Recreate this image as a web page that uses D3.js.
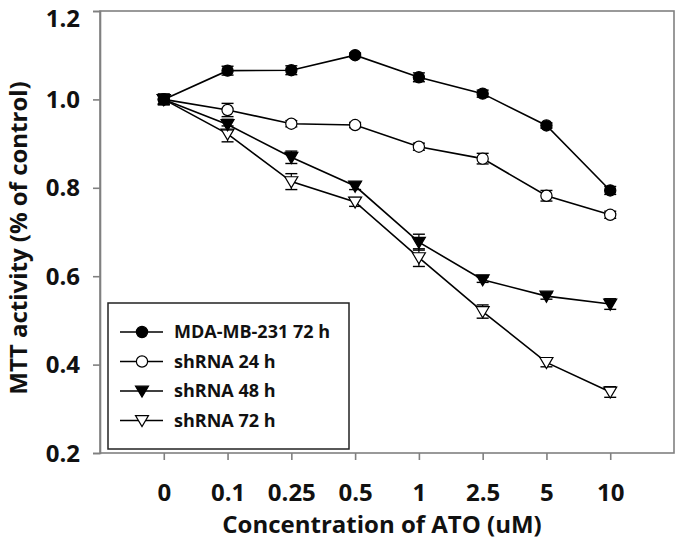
<!DOCTYPE html>
<html><head><meta charset="utf-8">
<script src="https://cdn.jsdelivr.net/npm/d3@7"></script>
<style>body{margin:0;background:#fff}svg{display:block}text{font-family:"Open Sans",sans-serif;font-weight:bold;fill:#111}</style>
</head><body>
<script>
const categories = ["0","0.1","0.25","0.5","1","2.5","5","10"];
const yTicks = [0.2,0.4,0.6,0.8,1.0,1.2];
const seriesNames = ["MDA-MB-231 72 h","shRNA 24 h","shRNA 48 h","shRNA 72 h"];
const mda72 = [1.000,1.065,1.066,1.100,1.050,1.013,0.941,0.794];
const sh24  = [1.000,0.976,0.945,0.942,0.893,0.866,0.782,0.739];
const sh48  = [1.000,0.943,0.869,0.804,0.677,0.592,0.555,0.537];
const sh72  = [1.000,0.922,0.814,0.768,0.642,0.520,0.405,0.338];
const mda72Err = [0.012,0.010,0.010,0.005,0.010,0.008,0.006,0.009];
const sh24Err  = [0.010,0.015,0.007,0.006,0.008,0.012,0.012,0.008];
const sh48Err  = [0.010,0.012,0.014,0.008,0.018,0.006,0.007,0.012];
const sh72Err  = [0.012,0.018,0.018,0.010,0.020,0.015,0.010,0.012];
const markers = ["circleFilled","circleOpen","triFilled","triOpen"];

const W=680,H=546;
const L=100,R=674,T=11,B=453;
const svg=d3.select("body").append("svg").attr("width",W).attr("height",H);
const x=d3.scalePoint().domain(categories).range([L,R]).padding(1);
const y=d3.scaleLinear().domain([0.2,1.2]).range([B,T]);

// frame
svg.append("rect").attr("x",L).attr("y",T).attr("width",R-L).attr("height",B-T)
  .attr("fill","none").attr("stroke","#808080").attr("stroke-width",1.6);

const yAxis=svg.append("g").attr("transform",`translate(${L},0)`)
  .call(d3.axisLeft(y).tickValues(yTicks).tickFormat(d3.format(".1f")).tickSize(7).tickPadding(13));
yAxis.select(".domain").attr("stroke","#808080").attr("stroke-width",1.6);
yAxis.selectAll(".tick line").attr("stroke","#808080").attr("stroke-width",1.6);
yAxis.selectAll("text").style("font-size","24px").attr("fill","#111")
  .attr("dy",d=>d>1.1?"0.64em":"0.34em");

const xAxis=svg.append("g").attr("transform",`translate(0,${B})`)
  .call(d3.axisBottom(x).tickSize(7).tickPadding(24));
xAxis.select(".domain").remove();
xAxis.selectAll(".tick line").attr("stroke","#808080").attr("stroke-width",1.6);
xAxis.selectAll("text").style("font-size","24px").attr("fill","#111");

svg.append("text").attr("x",382).attr("y",533).attr("text-anchor","middle")
  .style("font-size","24px").text("Concentration of ATO (uM)");
svg.append("text").attr("transform","translate(27,238) rotate(-90)").attr("text-anchor","middle")
  .style("font-size","24px").text("MTT activity (% of control)");

const data=[mda72,sh24,sh48,sh72];
const errs=[mda72Err,sh24Err,sh48Err,sh72Err];
const line=d3.line().x((d,i)=>x(categories[i])).y(d=>y(d));

function drawMarker(g,type,cx,cy){
  if(type.startsWith("circle")){
    g.append("circle").attr("cx",cx).attr("cy",cy).attr("r",5.6)
      .attr("fill",type==="circleFilled"?"#000":"#fff").attr("stroke","#000").attr("stroke-width",1.2);
  } else {
    const s=6.5;
    g.append("path").attr("d",`M${cx-s},${cy-s*0.75}L${cx+s},${cy-s*0.75}L${cx},${cy+s*0.95}Z`)
      .attr("fill",type==="triFilled"?"#000":"#fff").attr("stroke","#000").attr("stroke-width",1.2);
  }
}

const plot=svg.append("g");
[3,2,1,0].forEach(k=>{
  const g=plot.append("g");
  g.append("path").datum(data[k]).attr("d",line).attr("fill","none").attr("stroke","#000").attr("stroke-width",1.6);
  data[k].forEach((v,i)=>{
    const cx=x(categories[i]);
    const e=errs[k][i];
    const y1=y(v+e), y2=y(v-e);
    g.append("line").attr("x1",cx).attr("x2",cx).attr("y1",y1).attr("y2",y2).attr("stroke","#000").attr("stroke-width",1.2);
    [y1,y2].forEach(yy=>g.append("line").attr("x1",cx-6).attr("x2",cx+6).attr("y1",yy).attr("y2",yy).attr("stroke","#000").attr("stroke-width",1.4));
  });
  data[k].forEach((v,i)=>drawMarker(g,markers[k],x(categories[i]),y(v)));
});

// legend
const lg=svg.append("g");
lg.append("rect").attr("x",108).attr("y",303).attr("width",241).attr("height",146)
  .attr("fill","#fff").attr("stroke","#222").attr("stroke-width",1.5);
seriesNames.forEach((n,k)=>{
  const yy=332+k*29.5;
  lg.append("line").attr("x1",120).attr("x2",163).attr("y1",yy).attr("y2",yy).attr("stroke","#000").attr("stroke-width",1.6);
  drawMarker(lg,markers[k],142,yy);
  lg.append("text").attr("x",174).attr("y",yy).attr("dy","0.36em").style("font-size","18px").text(n);
});
</script>
</body></html>
